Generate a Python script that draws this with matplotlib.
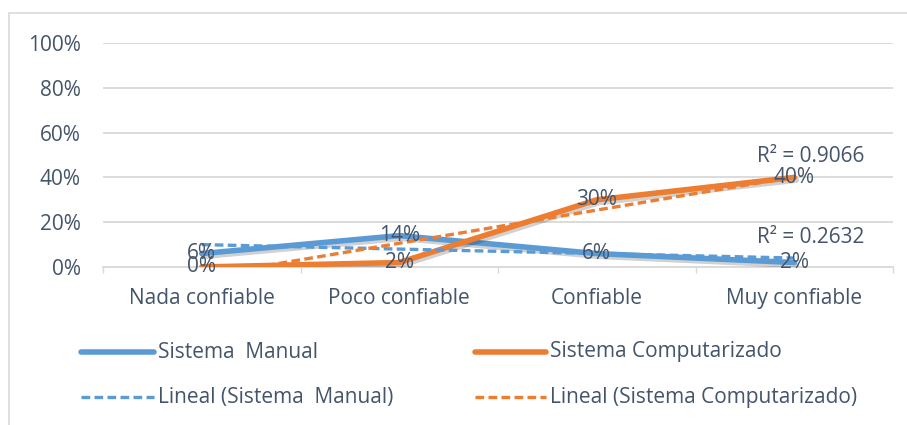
import numpy as np
import matplotlib
matplotlib.use("Agg")
import matplotlib.pyplot as plt
from matplotlib.lines import Line2D
from matplotlib.patches import Rectangle
import matplotlib.patheffects as pe

# Data
categories = ["Nada confiable", "Poco confiable", "Confiable", "Muy confiable"]
manual = [0.06, 0.14, 0.06, 0.02]
computarizado = [0.00, 0.02, 0.30, 0.40]
yticks = [0.0, 0.2, 0.4, 0.6, 0.8, 1.0]
ytick_labels = ["0%", "20%", "40%", "60%", "80%", "100%"]

BLUE = "#5B9BD5"
ORANGE = "#ED7D31"
TEXT = "#44546A"
GRID = "#D9D9D9"
FONT = "Open Sans"
FS = 15

W, H = 907, 425
fig = plt.figure(figsize=(W / 100, H / 100), dpi=100)
plt.rcParams["font.family"] = [FONT, "DejaVu Sans"]


def fx(px):
    return px / W


def fy(py):
    return 1 - py / H


# chart frame
fig.add_artist(Rectangle((fx(9), fy(440)), 1.2, fy(13) - fy(440),
                         transform=fig.transFigure, fill=False,
                         edgecolor=GRID, lw=1.2))

ax = fig.add_axes([fx(103), fy(267), fx(893) - fx(103), fy(43) - fy(267)])
x = np.arange(len(categories))

shadow = [pe.SimpleLineShadow(offset=(1.5, -2), shadow_color="#000000", alpha=0.18),
          pe.Normal()]

ax.plot(x, manual, color=BLUE, lw=4.0, solid_capstyle="round",
        solid_joinstyle="round", path_effects=shadow, zorder=3)
ax.plot(x, computarizado, color=ORANGE, lw=4.0, solid_capstyle="round",
        solid_joinstyle="round", path_effects=shadow, zorder=4)

DASH_LW = 2.4
DASHES = (2.6, 1.3)

# linear trendlines
xs = x + 1.0
for vals, col in ((manual, BLUE), (computarizado, ORANGE)):
    vals = np.asarray(vals)
    m, b = np.polyfit(xs, vals, 1)
    fit = m * xs + b
    r2 = 1 - np.sum((vals - fit) ** 2) / np.sum((vals - vals.mean()) ** 2)
    ax.plot(x, fit, color=col, lw=DASH_LW, dashes=DASHES, zorder=5)
    ax.annotate(f"R² = {r2:.4f}", xy=(x[-1], fit[-1]), xytext=(12, 15),
                textcoords="offset points", ha="center", va="center",
                color=TEXT, fontsize=FS, zorder=7)

for xi, v in zip(x, manual):
    ax.text(xi, v, f"{v*100:.0f}%", ha="center", va="center",
            color=TEXT, fontsize=FS, zorder=6)
for xi, v in zip(x, computarizado):
    ax.text(xi, v, f"{v*100:.0f}%", ha="center", va="center",
            color=TEXT, fontsize=FS, zorder=6)

ax.set_xlim(-0.5, len(categories) - 0.5)
ax.set_ylim(0, 1)
ax.set_yticks(yticks)
ax.set_yticklabels(ytick_labels)
ax.set_xticks(x)
ax.set_xticklabels(categories)
ax.set_xticks(np.arange(-0.5, len(categories), 1.0), minor=True)
ax.tick_params(axis="y", length=0, pad=16, labelsize=FS, labelcolor=TEXT)
ax.tick_params(axis="x", which="major", length=0, pad=15, labelsize=FS,
               labelcolor=TEXT)
ax.tick_params(axis="x", which="minor", length=4, width=1, color=GRID)
ax.grid(axis="y", color=GRID, lw=1.3, zorder=0)
for s in ("top", "right", "left"):
    ax.spines[s].set_visible(False)
ax.spines["bottom"].set_color(GRID)
ax.spines["bottom"].set_linewidth(1.3)
ax.set_axisbelow(True)

# legend
legend_items = [
    (81, 154, 352, BLUE, "-", 4.0, "Sistema  Manual"),
    (475, 546, 352, ORANGE, "-", 4.0, "Sistema Computarizado"),
    (81, 154, 397, BLUE, "--", DASH_LW, "Lineal (Sistema  Manual)"),
    (475, 546, 397, ORANGE, "--", DASH_LW, "Lineal (Sistema Computarizado)"),
]
for x0, x1, yy, col, ls, lw, label in legend_items:
    kw = dict(dashes=DASHES) if ls == "--" else dict(solid_capstyle="round")
    fig.add_artist(Line2D([fx(x0), fx(x1)], [fy(yy), fy(yy)],
                          transform=fig.transFigure, color=col, lw=lw, **kw))
    fig.text(fx(x1 + 4), fy(yy), label, ha="left", va="center",
             color=TEXT, fontsize=FS)

fig.savefig("out.png", dpi=100, facecolor="white")
